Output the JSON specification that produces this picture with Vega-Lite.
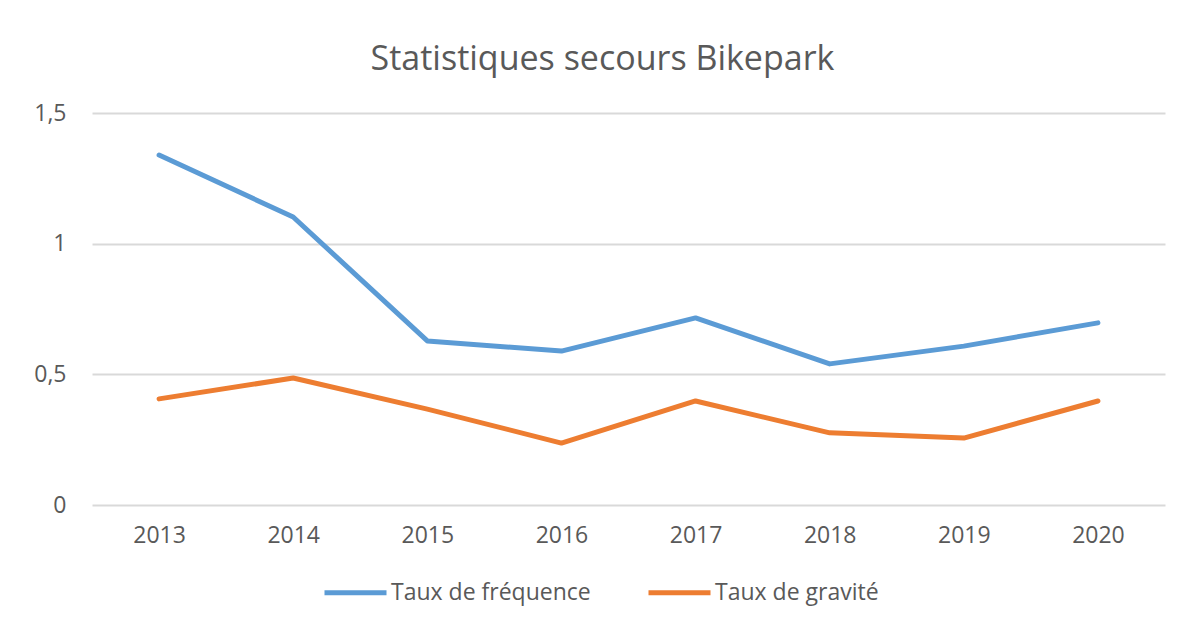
{
  "$schema": "https://vega.github.io/schema/vega-lite/v6.json",
  "autosize": "none",
  "width": 1073,
  "height": 392,
  "padding": {"left": 92, "top": 113, "right": 20, "bottom": 117},
  "background": "white",
  "title": {
    "text": "Statistiques secours Bikepark",
    "font": "Open Sans",
    "fontSize": 34,
    "fontWeight": "normal",
    "color": "#595959",
    "anchor": "middle",
    "dx": -26,
    "offset": 25
  },
  "data": {
    "values": [
      {"year": "2013", "serie": "Taux de fréquence", "value": 1.339},
      {"year": "2014", "serie": "Taux de fréquence", "value": 1.102},
      {"year": "2015", "serie": "Taux de fréquence", "value": 0.628},
      {"year": "2016", "serie": "Taux de fréquence", "value": 0.589},
      {"year": "2017", "serie": "Taux de fréquence", "value": 0.716},
      {"year": "2018", "serie": "Taux de fréquence", "value": 0.540},
      {"year": "2019", "serie": "Taux de fréquence", "value": 0.608},
      {"year": "2020", "serie": "Taux de fréquence", "value": 0.697},
      {"year": "2013", "serie": "Taux de gravité", "value": 0.406},
      {"year": "2014", "serie": "Taux de gravité", "value": 0.486},
      {"year": "2015", "serie": "Taux de gravité", "value": 0.367},
      {"year": "2016", "serie": "Taux de gravité", "value": 0.237},
      {"year": "2017", "serie": "Taux de gravité", "value": 0.398},
      {"year": "2018", "serie": "Taux de gravité", "value": 0.276},
      {"year": "2019", "serie": "Taux de gravité", "value": 0.256},
      {"year": "2020", "serie": "Taux de gravité", "value": 0.398}
    ]
  },
  "mark": {"type": "line", "strokeWidth": 5, "strokeCap": "round", "strokeJoin": "round"},
  "encoding": {
    "x": {
      "field": "year",
      "type": "ordinal",
      "scale": {"type": "point", "padding": 0.5},
      "axis": {
        "title": null,
        "labelAngle": 0,
        "ticks": false,
        "domain": false,
        "grid": false,
        "labelFont": "Open Sans",
        "labelFontSize": 23,
        "labelColor": "#595959",
        "labelPadding": 19
      }
    },
    "y": {
      "field": "value",
      "type": "quantitative",
      "scale": {"domain": [0, 1.5], "nice": false},
      "axis": {
        "title": null,
        "values": [0, 0.5, 1, 1.5],
        "labelExpr": "replace(toString(datum.value), '.', ',')",
        "ticks": false,
        "domain": false,
        "grid": true,
        "gridColor": "#D9D9D9",
        "gridWidth": 2,
        "labelFont": "Open Sans",
        "labelFontSize": 23,
        "labelColor": "#595959",
        "labelPadding": 26
      }
    },
    "color": {
      "field": "serie",
      "type": "nominal",
      "scale": {"domain": ["Taux de fréquence", "Taux de gravité"], "range": ["#5B9BD5", "#ED7D31"]},
      "legend": {
        "title": null,
        "orient": "none",
        "direction": "horizontal",
        "legendX": 230,
        "legendY": 446,
        "symbolType": "stroke",
        "symbolSize": 3844,
        "symbolStrokeWidth": 5,
        "labelFont": "Open Sans",
        "labelFontSize": 23,
        "labelColor": "#595959",
        "labelOffset": 2,
        "labelLimit": 0,
        "columnPadding": 47
      }
    }
  },
  "config": {"view": {"stroke": null}}
}
